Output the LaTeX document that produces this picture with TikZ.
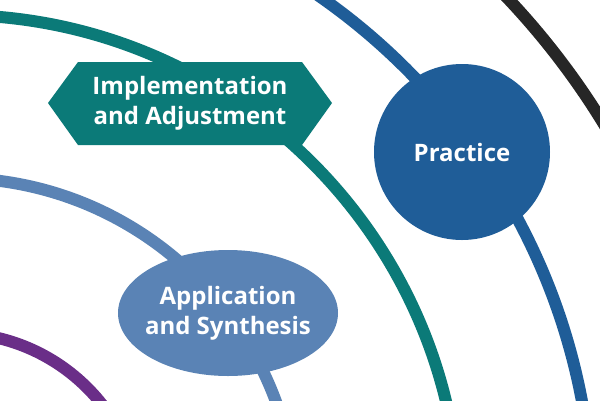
\documentclass[tikz,border=0pt]{standalone}
\usepackage{fontspec}
\setmainfont{Open Sans}
\begin{document}
\begin{tikzpicture}[x=1pt,y=-1pt,
  arc/.style={line width=12pt},
  lbl/.style={text=white,font=\bfseries\fontsize{24}{30}\selectfont,align=center}]
\definecolor{teal}{HTML}{0B7A78}
\definecolor{lblue}{HTML}{5A83B5}
\definecolor{dblue}{HTML}{1F5D98}
\definecolor{purp}{HTML}{6A2E88}
\useasboundingbox (0,0) rectangle (600,400);
\fill[white] (0,0) rectangle (600,400);
\begin{scope}
\clip (0,0) rectangle (600,400);
\coordinate (c) at (-45,520);
\draw[arc,purp] (c) circle[radius=187];
\draw[arc,lblue] (c) circle[radius=342];
\draw[arc,teal] (c) circle[radius=505];
\draw[arc,dblue] (c) circle[radius=638];
\draw[arc,black!85] (c) circle[radius=760];
\end{scope}
\fill[teal] (48,103) -- (78,62) -- (302,62) -- (332,103) -- (302,145) -- (78,145) -- cycle;
\node[lbl] (impl) at (190,103) {Implementation\\and Adjustment};
\fill[dblue] (462,152) circle[radius=88];
\node[lbl] (prac) at (462,152) {Practice};
\fill[lblue] (228,313) ellipse[x radius=110,y radius=63];
\node[lbl] (app) at (228,313) {Application\\and Synthesis};
\end{tikzpicture}
\end{document}
